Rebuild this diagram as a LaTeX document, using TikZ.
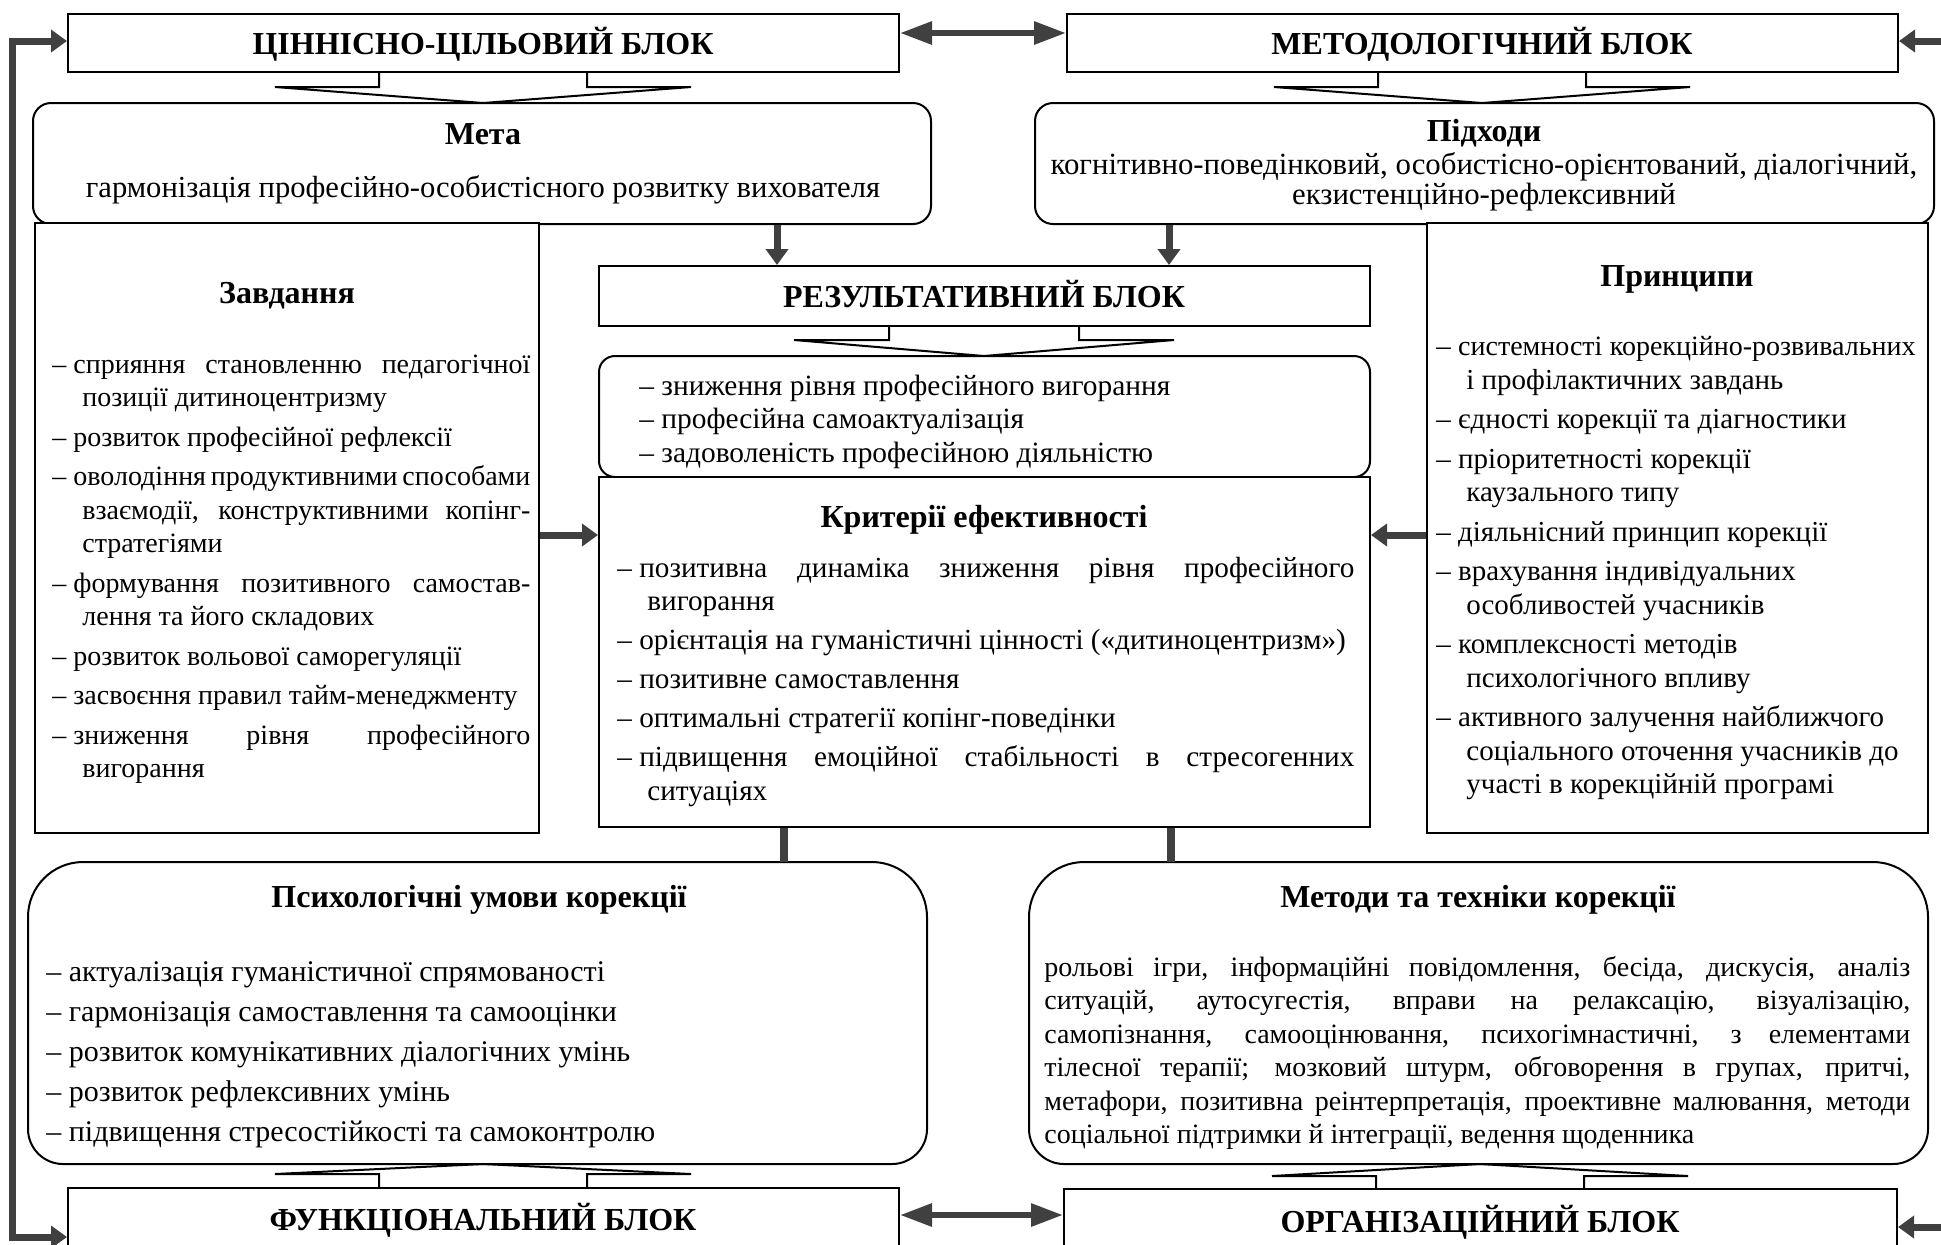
\documentclass[tikz,border=0pt]{standalone}
\usepackage{fontspec}
\setmainfont{Liberation Serif}
\usetikzlibrary{arrows.meta,fit}

\definecolor{agray}{HTML}{404040}

% body text at a given size, common line spacing
\newcommand\fsat[1]{\fontsize{#1}{16.75pt}\selectfont}
\newcommand\fsbody{\fsat{14pt}}
\newcommand\fshead{\fontsize{16pt}{19pt}\selectfont\bfseries}
\newcommand\fstitle{\fontsize{16pt}{19pt}\selectfont\bfseries}
% word spaces that may shrink a little more than usual
\newcommand\softspaces{\spaceskip=0.25em plus 0.18em minus 0.12em\relax}
% list entries: dash with hanging indent
\newcommand\firstitm{\hangindent=15pt\hangafter=1\strut–\hspace{0.25em}\ignorespaces}
\newcommand\itm[1][3pt]{\par\vspace{#1}\hangindent=15pt\hangafter=1\noindent\strut–\hspace{0.25em}\ignorespaces}

% rounded box with separate top and bottom corner radii
\newcommand\softbox[6]{%
  \draw[frame] (#1,#2+#5) .. controls (#1,#2+0.45*#5) and (#1+0.45*#5,#2) .. (#1+#5,#2)
    -- (#3-#5,#2) .. controls (#3-0.45*#5,#2) and (#3,#2+0.45*#5) .. (#3,#2+#5)
    -- (#3,#4-#6) .. controls (#3,#4-0.45*#6) and (#3-0.45*#6,#4) .. (#3-#6,#4)
    -- (#1+#6,#4) .. controls (#1+0.45*#6,#4) and (#1,#4-0.45*#6) .. (#1,#4-#6) -- cycle;}

% funnel-shaped pointer under/over a block header
\newcommand\stubs[6]{%
  \draw[stub] (#1-#5,#2) -- (#1-#5,#3) -- (#1-#6,#3) -- (#1,#4) -- (#1+#6,#3) -- (#1+#5,#3) -- (#1+#5,#2);}

\tikzset{
  x=0.5pt, y=-0.5pt,
  frame/.style={draw=black, line width=1pt, fill=white, inner sep=0pt},
  roundframe/.style={frame, rounded corners=8pt},
  region/.style={inner sep=0pt},
  headtext/.style={font=\fshead, inner sep=0pt, anchor=base},
  title/.style={font=\fstitle, inner sep=0pt, anchor=base},
  line/.style={font=\fsbody, inner sep=0pt, anchor=base},
  bodytext/.style={font=\fsbody, inner sep=0pt, anchor=north west, align=justify},
  raggedtext/.style={font=\fsbody, inner sep=0pt, anchor=north west, align=flush left},
  stub/.style={draw=black, line width=1pt, line join=miter},
  flow/.style={draw=agray, line width=3.5pt, -{Triangle[length=8pt,width=11pt]}},
  loopback/.style={draw=agray, line width=3.5pt, line join=miter,
    {Triangle[length=8pt,width=11pt]}-{Triangle[length=8pt,width=11pt]}},
  link/.style={draw=agray, line width=4pt},
  twoway/.style={draw=agray, line width=3pt,
    {Triangle[length=16pt,width=11pt]}-{Triangle[length=16pt,width=11pt]}},
}

\begin{document}
\begin{tikzpicture}
\useasboundingbox (0,0) rectangle (1941,1244);
\clip (0,0) rectangle (1941,1244);

% ---------- boxes ----------
\node[frame, fit={(68,14) (899,72)}] (hTL) {};
\node[frame, fit={(1067,14) (1898,72)}] (hTR) {};
\node[roundframe, rounded corners=9pt, fit={(33,103) (931,224)}] (meta) {};
\node[roundframe, rounded corners=9pt, fit={(1035,103) (1934,224)}] (appr) {};
\node[frame, fit={(35,223) (539,833)}] (zav) {};
\node[frame, fit={(1427,223) (1928,833)}] (prin) {};
\node[frame, fit={(599,266) (1370,326)}] (hRes) {};
\node[roundframe, fit={(599,356) (1370,477)}] (res) {};
\node[frame, fit={(599,477) (1370,827)}] (crit) {};
\softbox{28}{862}{927}{1164}{55}{35}
\node[region, fit={(28,862) (927,1164)}] (psych) {};
\softbox{1029}{862}{1928}{1164}{55}{35}
\node[region, fit={(1029,862) (1928,1164)}] (meth) {};
\node[frame, fit={(68,1188) (899,1270)}] (hFN) {};
\node[frame, fit={(1064,1189) (1897,1270)}] (hORG) {};

% ---------- pointers between headers and boxes ----------
\stubs{483}{72}{87}{103}{104}{208}
\stubs{1482}{72}{87}{103}{104}{208}
\stubs{984}{326}{340}{356}{95}{190}
\stubs{483}{1188}{1174}{1164}{104}{208}
\stubs{1480}{1189}{1176}{1164}{104}{208}

% ---------- connectors ----------
\coordinate (a1) at (777,0);
\coordinate (a2) at (1169,0);
\coordinate (a3) at (0,535);
\coordinate (l1) at (784,0);
\coordinate (l2) at (1171,0);
\coordinate (t1) at (0,33);
\coordinate (t2) at (0,1215);
\coordinate (r1) at (1941,41);
\coordinate (r2) at (1941,1227);
\coordinate (fb1) at (12,41);
\coordinate (fb2) at (12,1237);

\draw[flow] (meta.south -| a1) -- (hRes.north -| a1);
\draw[flow] (appr.south -| a2) -- (hRes.north -| a2);
\draw[flow] (zav.east |- a3) -- (crit.west |- a3);
\draw[flow] (prin.west |- a3) -- (crit.east |- a3);
\draw[link] (crit.south -| l1) -- (psych.north -| l1);
\draw[link] (crit.south -| l2) -- (meth.north -| l2);
\draw[twoway] (hTL.east |- t1) -- (hTR.west |- t1);
\draw[twoway] (hFN.east |- t2) -- (hORG.west |- t2);
\draw[flow] (r1) -- (hTR.east |- r1);
\draw[flow] (r2) -- (hORG.east |- r2);
\draw[loopback] (hTL.west |- fb1) -- (fb1) -- (fb2) -- (hFN.west |- fb2);

% ---------- headers ----------
\node[headtext] (tTL) at (483,54) {ЦІННІСНО-ЦІЛЬОВИЙ БЛОК};
\node[headtext] (tTR) at (1482,54) {МЕТОДОЛОГІЧНИЙ БЛОК};
\node[headtext] (tRes) at (984,307) {РЕЗУЛЬТАТИВНИЙ БЛОК};
\node[headtext] (tFN) at (483,1230) {ФУНКЦІОНАЛЬНИЙ БЛОК};
\node[headtext] (tORG) at (1480,1232) {ОРГАНІЗАЦІЙНИЙ БЛОК};

% ---------- goal and approaches ----------
\node[title] (tMeta) at (483,144.5) {Мета};
\node[line, font=\fsat{15.3pt}] (xMeta) at (483,197.5) {гармонізація професійно-особистісного розвитку вихователя};
\node[title] (tAppr) at (1484,141.5) {Підходи};
\node[line, font=\fsat{15.4pt}] (xAppr1) at (1484,174) {когнітивно-поведінковий, особистісно-орієнтований, діалогічний,};
\node[line, font=\fsat{15.4pt}] (xAppr2) at (1484,204.5) {екзистенційно-рефлексивний};

% ---------- tasks ----------
\node[title] (tZav) at (287,303.5) {Завдання};
\node[bodytext, text width=239pt] (xZav) at (52,349.3) {\softspaces
\firstitm сприяння становленню педагогічної\linebreak позиції дитиноцентризму
\itm розвиток професійної рефлексії
\itm оволодіння продуктивними способами\linebreak взаємодії, конструктивними копінг-\linebreak стратегіями
\itm формування позитивного самостав-\linebreak лення та його складових
\itm розвиток вольової саморегуляції
\itm засвоєння правил тайм-менеджменту
\itm зниження рівня професійного\linebreak вигорання\par};

% ---------- principles ----------
\node[title] (tPrin) at (1677,286.5) {Принципи};
\node[raggedtext, font=\fsat{14.5pt}, text width=252pt] (xPrin) at (1436,332) {\softspaces
\firstitm {\fsat{14pt}системності\ корекційно-розвивальних}\linebreak і профілактичних завдань
\itm єдності корекції та діагностики
\itm пріоритетності корекції\linebreak каузального типу
\itm діяльнісний принцип корекції
\itm врахування індивідуальних\linebreak особливостей учасників
\itm комплексності методів\linebreak психологічного впливу
\itm активного залучення найближчого\linebreak соціального оточення учасників до\linebreak участі в корекційній програмі\par};

% ---------- results ----------
\node[raggedtext, font=\fsat{14.7pt}, text width=350pt] (xRes) at (639,371.3) {%
\firstitm зниження рівня професійного вигорання
\itm[0pt] професійна самоактуалізація
\itm[0pt] задоволеність професійною діяльністю\par};

% ---------- criteria ----------
\node[title] (tCrit) at (984,527.5) {Критерії ефективності};
\node[bodytext, font=\fsat{14.6pt}, text width=368.5pt] (xCrit) at (617,553.3) {%
\firstitm позитивна динаміка зниження рівня професійного\linebreak вигорання
\itm[2.75pt] орієнтація на гуманістичні цінності («дитиноцентризм»)
\itm[2.75pt] позитивне самоставлення
\itm[2.75pt] оптимальні стратегії копінг-поведінки
\itm[2.75pt] підвищення емоційної стабільності в стресогенних\linebreak ситуаціях\par};

% ---------- psychological conditions ----------
\node[title] (tPsy) at (479,907) {Психологічні умови корекції};
\node[raggedtext, font=\fsat{15pt}, text width=430pt] (xPsy) at (46,957.3) {%
\firstitm актуалізація гуманістичної спрямованості
\itm[3.25pt] гармонізація самоставлення та самооцінки
\itm[3.25pt] розвиток комунікативних діалогічних умінь
\itm[3.25pt] розвиток рефлексивних умінь
\itm[3.25pt] підвищення стресостійкості та самоконтролю\par};

% ---------- methods ----------
\node[title] (tMeth) at (1478,907) {Методи та техніки корекції};
\node[bodytext, text width=433pt] (xMeth) at (1044,952.2) {%
\noindent\strut рольові ігри, інформаційні повідомлення, бесіда, дискусія, аналіз\linebreak
ситуацій, аутосугестія, вправи на релаксацію, візуалізацію,\linebreak
самопізнання, самооцінювання, психогімнастичні, з елементами\linebreak
тілесної терапії; мозковий штурм, обговорення в групах, притчі,\linebreak
метафори, позитивна реінтерпретація, проективне малювання, методи\linebreak
соціальної підтримки й інтеграції, ведення щоденника\par};
\end{tikzpicture}
\end{document}
